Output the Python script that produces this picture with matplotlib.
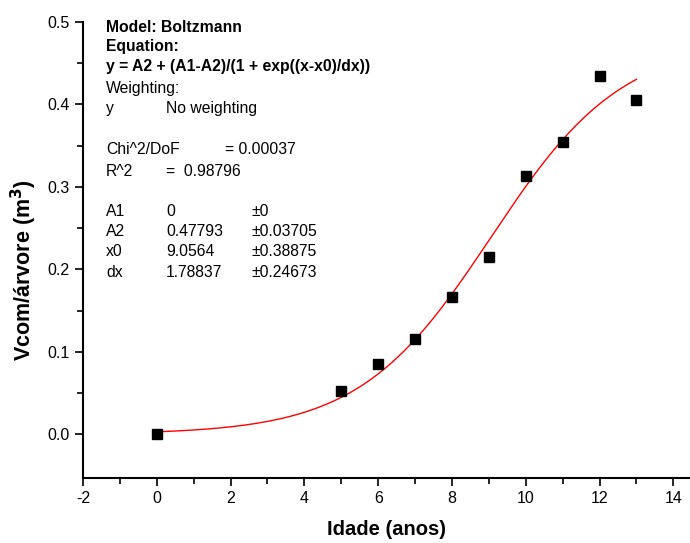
import numpy as np
import matplotlib.pyplot as plt

plt.rcParams['font.family'] = ['Liberation Sans', 'DejaVu Sans']
plt.rcParams['axes.unicode_minus'] = False

# observed data
idade = [0, 5, 6, 7, 8, 9, 10, 11, 12, 13]
volume = [0.0, 0.053, 0.085, 0.115, 0.166, 0.215, 0.313, 0.354, 0.434, 0.406]

# Boltzmann fit parameters (from the fit report)
A1, A2, x0, dx = 0.0, 0.47793, 9.0564, 1.78837

W, H = 690, 543
fig = plt.figure(figsize=(W / 100, H / 100), dpi=100)
ax = fig.add_axes([83 / W, 65 / H, 1 - 83 / W, (478 - 22) / H])

xf = np.linspace(min(idade), max(idade), 300)
yf = A2 + (A1 - A2) / (1 + np.exp((xf - x0) / dx))
ax.plot(xf, yf, color='red', lw=1)
ax.plot(idade, volume, 's', color='black', ms=7)

ax.set_xlim(-2, 14.45)
ax.set_ylim(-0.053, 0.5)
ax.set_xticks(range(-2, 15, 2))
ax.set_xticks(range(-1, 15, 2), minor=True)
ax.set_yticks([0.0, 0.1, 0.2, 0.3, 0.4, 0.5])
ax.set_yticklabels(['0.0', '0.1', '0.2', '0.3', '0.4', '0.5'])
ax.set_yticks([0.05, 0.15, 0.25, 0.35, 0.45], minor=True)
ax.tick_params(which='major', length=6, width=1.2, labelsize=11.5, direction='out')
ax.tick_params(which='minor', length=4, width=1.2, direction='out')
for s in ['top', 'right']:
    ax.spines[s].set_visible(False)
for s in ['left', 'bottom']:
    ax.spines[s].set_linewidth(1.5)

ax.set_xlabel('Idade (anos)', fontsize=14.5, fontweight='bold')
ax.set_ylabel('Vcom/árvore (m$^\\mathbf{3}$)', fontsize=15.5, fontweight='bold')
ax.xaxis.set_label_coords(0.5, -0.093)
ax.yaxis.set_label_coords(-0.073, 0.456)

# fit report text
def txt(x, y, s, bold=False):
    fig.text(x / W, 1 - y / H, s, fontsize=11.3, va='center', ha='left',
             fontweight='bold' if bold else 'normal')

txt(106, 28, 'Model: Boltzmann', True)
txt(106, 47, 'Equation:', True)
txt(106, 67, 'y = A2 + (A1-A2)/(1 + exp((x-x0)/dx))', True)
txt(106, 88, 'Weighting:')
txt(106, 109, 'y')
txt(166, 109, 'No weighting')
txt(106, 150, 'Chi^2/DoF')
txt(225, 150, '= 0.00037')
txt(106, 171, 'R^2')
txt(166, 171, '=  0.98796')
rows = [('A1', '0', '±0'), ('A2', '0.47793', '±0.03705'),
        ('x0', '9.0564', '±0.38875'), ('dx', '1.78837', '±0.24673')]
for i, (n, v, e) in enumerate(rows):
    yy = 212 + i * 20
    txt(106, yy, n)
    txt(166, yy, v)
    txt(252, yy, e)

fig.savefig('out.png', dpi=100)
